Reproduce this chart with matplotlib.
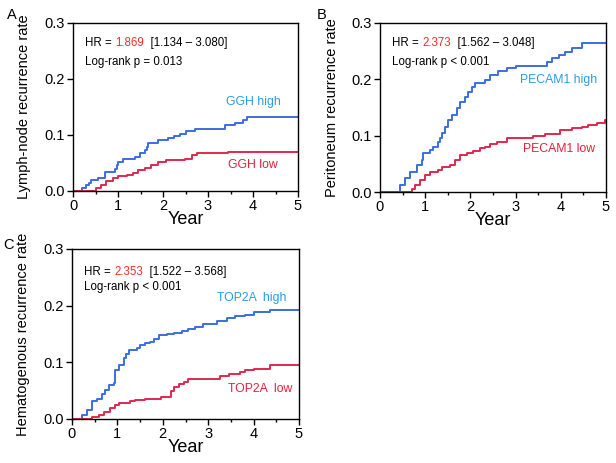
import matplotlib
matplotlib.use("Agg")
import matplotlib.pyplot as plt
from matplotlib.ticker import MultipleLocator

plt.rcParams['font.family'] = ['Liberation Sans', 'DejaVu Sans']

# ---- Data ----
ggh_high_t = [0.0, 0.15, 0.2, 0.28, 0.35, 0.41, 0.56, 0.70, 0.93, 0.97, 1.0, 1.11, 1.37, 1.48, 1.59, 1.64, 1.67, 1.89, 2.1, 2.25, 2.37, 2.52, 2.71, 3.38, 3.6, 3.78, 3.86, 5.0]
ggh_high_v = [0.0, 0.0, 0.005, 0.01, 0.015, 0.02, 0.023, 0.034, 0.04, 0.046, 0.052, 0.057, 0.061, 0.067, 0.073, 0.079, 0.085, 0.091, 0.095, 0.098, 0.102, 0.107, 0.110, 0.118, 0.121, 0.126, 0.133, 0.133]
ggh_low_t = [0.0, 0.41, 0.52, 0.63, 0.74, 0.89, 1.0, 1.19, 1.33, 1.44, 1.59, 1.74, 1.89, 2.07, 2.49, 2.64, 2.75, 3.45, 5.0]
ggh_low_v = [0.0, 0.0, 0.005, 0.011, 0.017, 0.023, 0.026, 0.029, 0.032, 0.038, 0.041, 0.046, 0.052, 0.055, 0.058, 0.064, 0.067, 0.070, 0.070]

pecam_high_t = [0.0, 0.36, 0.44, 0.55, 0.66, 0.81, 0.92, 0.96, 1.11, 1.18, 1.29, 1.33, 1.37, 1.44, 1.51, 1.59, 1.70, 1.77, 1.88, 1.95, 2.03, 2.10, 2.32, 2.43, 2.62, 2.80, 3.0, 3.61, 3.69, 3.80, 3.95, 4.09, 4.24, 4.46, 5.0]
pecam_high_v = [0.0, 0.0, 0.012, 0.024, 0.036, 0.048, 0.057, 0.069, 0.075, 0.080, 0.089, 0.096, 0.104, 0.116, 0.128, 0.137, 0.149, 0.160, 0.169, 0.178, 0.187, 0.194, 0.198, 0.207, 0.214, 0.220, 0.223, 0.224, 0.231, 0.237, 0.243, 0.249, 0.255, 0.264, 0.264]
pecam_low_t = [0.0, 0.62, 0.70, 0.77, 0.88, 1.0, 1.11, 1.29, 1.37, 1.55, 1.66, 1.77, 1.92, 2.06, 2.21, 2.32, 2.43, 2.58, 2.80, 3.39, 3.65, 3.98, 4.24, 4.46, 4.61, 4.79, 4.97, 5.0]
pecam_low_v = [0.0, 0.0, 0.006, 0.012, 0.021, 0.030, 0.036, 0.039, 0.045, 0.048, 0.057, 0.066, 0.069, 0.072, 0.078, 0.080, 0.085, 0.089, 0.095, 0.099, 0.103, 0.110, 0.113, 0.116, 0.119, 0.122, 0.128, 0.128]

top2a_high_t = [0.0, 0.15, 0.22, 0.33, 0.44, 0.55, 0.66, 0.73, 0.81, 0.92, 0.95, 1.03, 1.14, 1.20, 1.25, 1.43, 1.50, 1.61, 1.72, 1.80, 1.91, 2.09, 2.24, 2.42, 2.55, 2.71, 2.89, 3.19, 3.41, 3.59, 3.80, 4.0, 4.36, 5.0]
top2a_high_v = [0.0, 0.0, 0.007, 0.016, 0.031, 0.036, 0.045, 0.051, 0.060, 0.063, 0.086, 0.095, 0.107, 0.115, 0.122, 0.125, 0.131, 0.134, 0.136, 0.142, 0.148, 0.150, 0.152, 0.155, 0.158, 0.163, 0.168, 0.173, 0.178, 0.182, 0.184, 0.189, 0.192, 0.192]
top2a_low_t = [0.0, 0.29, 0.44, 0.59, 0.70, 0.84, 0.95, 1.03, 1.28, 1.39, 1.61, 1.95, 2.17, 2.24, 2.35, 2.46, 2.56, 3.26, 3.45, 3.70, 3.81, 4.0, 4.36, 5.0]
top2a_low_v = [0.0, 0.0, 0.004, 0.007, 0.013, 0.019, 0.025, 0.028, 0.031, 0.034, 0.036, 0.039, 0.050, 0.057, 0.061, 0.066, 0.071, 0.076, 0.079, 0.083, 0.086, 0.089, 0.095, 0.095]

panel_letters = ['A', 'B', 'C']
ylabels = ['Lymph-node recurrence rate', 'Peritoneum recurrence rate', 'Hematogenous recurrence rate']
hr_vals = ['1.869', '2.373', '2.353']
hr_ci = ['[1.134 \u2013 3.080]', '[1.562 \u2013 3.048]', '[1.522 \u2013 3.568]']
pvals = ['Log-rank p = 0.013', 'Log-rank p < 0.001', 'Log-rank p < 0.001']
high_labels = ['GGH high', 'PECAM1 high', 'TOP2A  high']
low_labels = ['GGH low', 'PECAM1 low', 'TOP2A  low']
x_ticks = [0, 1, 2, 3, 4, 5]
y_ticks = [0.0, 0.1, 0.2, 0.3]

series = [
    (ggh_high_t, ggh_high_v, ggh_low_t, ggh_low_v),
    (pecam_high_t, pecam_high_v, pecam_low_t, pecam_low_v),
    (top2a_high_t, top2a_high_v, top2a_low_t, top2a_low_v),
]

LINE_BLUE = '#3a6fe0'
TEXT_BLUE = '#2b9be6'
LINE_RED = '#e0284f'
TEXT_RED = '#e8203a'
HR_RED = '#ff2a2a'

fig = plt.figure(figsize=(6.16, 4.63), dpi=100)
W, H = 616, 463
boxes = [(73, 23, 298, 191), (380, 23, 606, 192), (72, 249, 299, 419)]
letter_pos = [(12, 15), (322, 15), (8, 245)]
ylabel_x = [31, 339, 30]
txt_pos = [
    (0.88, 0.77, (0.68, 0.53), (0.69, 0.155)),
    (0.88, 0.77, (0.62, 0.663), (0.633, 0.254)),
    (0.865, 0.776, (0.64, 0.71), (0.687, 0.176)),
]

for i in range(3):
    l, t, r, b = boxes[i]
    ax = fig.add_axes([l / W, 1 - b / H, (r - l) / W, (b - t) / H])
    ht, hv, lt, lv = series[i]
    ax.step(ht, hv, where='post', color=LINE_BLUE, lw=1.4)
    ax.step(lt, lv, where='post', color=LINE_RED, lw=1.4)
    ax.set_xlim(0, 5)
    ax.set_ylim(0, 0.3)
    ax.set_xticks(x_ticks)
    ax.set_yticks(y_ticks)
    ax.set_yticklabels([f'{v:.1f}' for v in y_ticks])
    ax.xaxis.set_minor_locator(MultipleLocator(0.5))
    ax.tick_params(axis='both', which='major', direction='out', length=4, width=1, labelsize=10.5, pad=2)
    ax.tick_params(axis='x', which='minor', direction='out', length=2.5, width=1)
    for s in ax.spines.values():
        s.set_linewidth(1.0)
    ax.set_xlabel('Year', fontsize=13, labelpad=-2)
    ax.set_ylabel(ylabels[i], fontsize=10.5, labelpad=3)
    ax.yaxis.set_label_coords((ylabel_x[i] - l) / (r - l), 0.5)

    hr_y, p_y, (hx, hy), (lx, ly) = txt_pos[i]
    x0 = 0.055
    t1 = ax.text(x0, hr_y, 'HR = ', transform=ax.transAxes, fontsize=8.3, va='center', ha='left')
    fig.canvas.draw()
    ann = ax.annotate(hr_vals[i], xycoords=t1, xy=(1, 0.5), va='center', ha='left', fontsize=8.3, color=HR_RED)
    ax.annotate('  ' + hr_ci[i], xycoords=ann, xy=(1, 0.5), va='center', ha='left', fontsize=8.3)
    ax.text(x0, p_y, pvals[i], transform=ax.transAxes, fontsize=8.3, va='center', ha='left')
    ax.text(hx, hy, high_labels[i], transform=ax.transAxes, fontsize=8.8, va='center', ha='left', color=TEXT_BLUE)
    ax.text(lx, ly, low_labels[i], transform=ax.transAxes, fontsize=8.8, va='center', ha='left', color=TEXT_RED)

    fig.text(letter_pos[i][0] / W, 1 - letter_pos[i][1] / H, panel_letters[i], fontsize=10.5, va='center', ha='center')

fig.savefig('out.png', dpi=100)
